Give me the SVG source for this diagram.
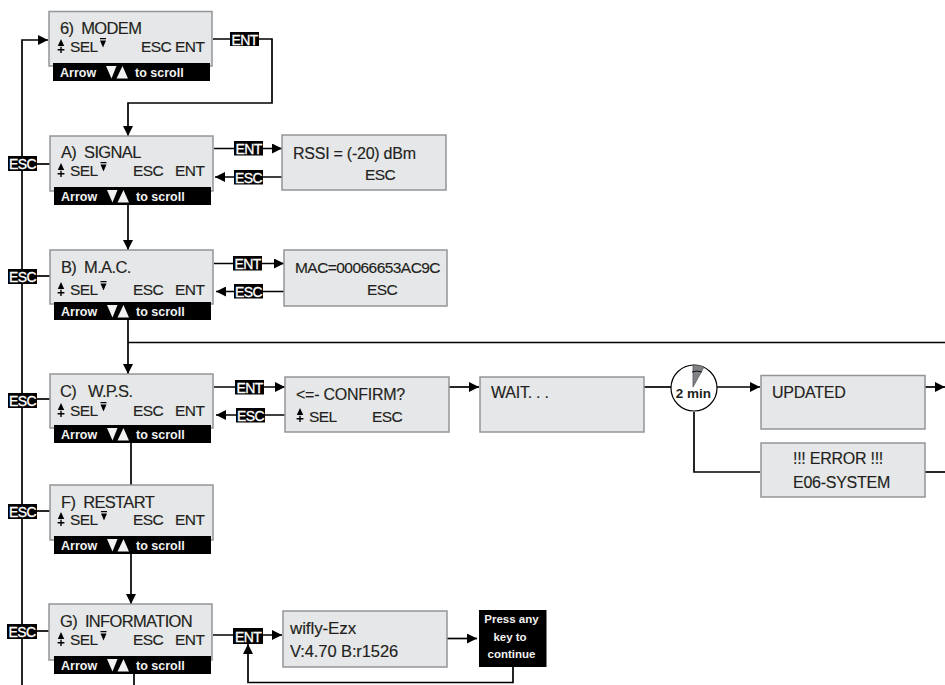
<svg xmlns="http://www.w3.org/2000/svg" width="945" height="685" viewBox="0 0 945 685">
<style>
text{font-family:"Liberation Sans",Arial,sans-serif;fill:#231f20;white-space:pre}
.box{fill:#e6e7e8;stroke:#939598;stroke-width:1.5}
.t{font-size:16.500px;letter-spacing:-.65px;stroke:#231f20;stroke-width:.15}
.w{font-size:17px;letter-spacing:-.1px;stroke:#231f20;stroke-width:.15}
.s{font-size:15.500px;letter-spacing:-.55px;stroke:#231f20;stroke-width:.15}
.l{font-size:16px;letter-spacing:-.25px;stroke:#231f20;stroke-width:.15}
.bar{fill:#000}
.bt{font-size:12.500px;font-weight:bold;fill:#f2f2f2}
.pt{font-size:11.500px;font-weight:bold;fill:#f2f2f2;text-anchor:middle}
.lb{fill:#000}
.lt{font-size:14px;fill:#fff;stroke:#fff;stroke-width:.3;text-anchor:middle;letter-spacing:-.6px}
.c{fill:none;stroke:#000;stroke-width:1.700}
.a{fill:#000}
</style>
<defs>
<marker id="arr" markerUnits="userSpaceOnUse" markerWidth="11" markerHeight="10" refX="10" refY="5" orient="auto"><path d="M0 0L10 5L0 10Z" fill="#000"/></marker>
<g id="updn"><path class="a" d="M0 -8L3.200 -1H-3.200Z"/><path class="a" d="M-3.400 2H-.7V-.2H.7V2H3.400V3.400H.7V6H-.7V3.400H-3.400Z"/></g>
<g id="dn"><path class="a" d="M-3 -6H3V-4.800H-3ZM-3 -3.600H3L0 3.500Z"/></g>
<g id="bar"><rect class="bar" x="0" y="0" width="157" height="18"/><text class="bt" x="7" y="13.500">Arrow</text><path d="M53 3H63.500L58.500 15.500Z" fill="#f2f2f2"/><path d="M63.500 15.500H75L69.500 3Z" fill="#f2f2f2"/><text class="bt" x="82" y="13.500">to scroll</text></g>
</defs>
<g id="connectors">
<path class="c" d="M22 685V40H48" marker-end="url(#arr)"/>
<path class="c" d="M213 39H272V103H128V136" marker-end="url(#arr)"/>
<path class="c" d="M214 148.500H282" marker-end="url(#arr)"/>
<path class="c" d="M282 177H215" marker-end="url(#arr)"/>
<path class="c" d="M128 205V250" marker-end="url(#arr)"/>
<path class="c" d="M214 263.500H284" marker-end="url(#arr)"/>
<path class="c" d="M284 291.500H216" marker-end="url(#arr)"/>
<path class="c" d="M128 320V374" marker-end="url(#arr)"/>
<path class="c" d="M128 342.500H945"/>
<path class="c" d="M214 387H285" marker-end="url(#arr)"/>
<path class="c" d="M285 415H216" marker-end="url(#arr)"/>
<path class="c" d="M449 387H479" marker-end="url(#arr)"/>
<path class="c" d="M131 443V485"/>
<path class="c" d="M131 554V604" marker-end="url(#arr)"/>
<path class="c" d="M134 674V685"/>
<path class="c" d="M643 387H671"/>
<path class="c" d="M717 387H760" marker-end="url(#arr)"/>
<path class="c" d="M925 387H945" marker-end="url(#arr)"/>
<path class="c" d="M694 412V472H760"/>
<path class="c" d="M925 472H945"/>
<path class="c" d="M37 164H50"/><path class="c" d="M37 276H50"/><path class="c" d="M37 399H50"/><path class="c" d="M37 511H50"/><path class="c" d="M37 631H50"/>
<path class="c" d="M213 635H282" marker-end="url(#arr)"/>
<path class="c" d="M447 638.500H477" marker-end="url(#arr)"/>
<path class="c" d="M513 667V682.500H248V644" marker-end="url(#arr)"/>
</g>
<g id="modem"><rect class="box" x="49" y="11.500" width="163" height="54.500"/><use href="#bar" x="53" y="63"/><text class="t" x="60" y="34">6)  MODEM</text><use href="#updn" x="61" y="47"/><text class="s" x="70" y="52">SEL</text><use href="#dn" x="103" y="44"/><text class="s" x="141" y="52">ESC ENT</text></g>
<g id="signal"><rect class="box" x="50" y="136" width="163" height="55"/><use href="#bar" x="54" y="187"/><text class="t" x="61" y="158">A)  SIGNAL</text><use href="#updn" x="61" y="171"/><text class="s" x="70" y="176">SEL</text><use href="#dn" x="103.500" y="168"/><text class="s" x="133" y="176">ESC</text><text class="s" x="175" y="176">ENT</text></g>
<g id="mac"><rect class="box" x="50" y="250" width="163" height="54"/><use href="#bar" x="54" y="302"/><text class="t" x="61" y="273">B)  M.A.C.</text><use href="#updn" x="61" y="290"/><text class="s" x="70" y="295">SEL</text><use href="#dn" x="103.500" y="287"/><text class="s" x="133" y="295">ESC</text><text class="s" x="175" y="295">ENT</text></g>
<g id="wps"><rect class="box" x="50" y="374" width="163" height="54"/><use href="#bar" x="54" y="425"/><text class="t" x="60" y="397">C)   W.P.S.</text><use href="#updn" x="61" y="411"/><text class="s" x="70" y="416">SEL</text><use href="#dn" x="103.500" y="408"/><text class="s" x="133" y="416">ESC</text><text class="s" x="175" y="416">ENT</text></g>
<g id="restart"><rect class="box" x="50" y="485" width="163" height="55"/><use href="#bar" x="54" y="536"/><text class="t" x="61" y="508">F)  RESTART</text><use href="#updn" x="61" y="520"/><text class="s" x="70" y="525">SEL</text><use href="#dn" x="104" y="517"/><text class="s" x="133" y="525">ESC</text><text class="s" x="175" y="525">ENT</text></g>
<g id="information"><rect class="box" x="49" y="604" width="163" height="56"/><use href="#bar" x="54" y="656"/><text class="t" x="60" y="627">G)  INFORMATION</text><use href="#updn" x="61" y="640"/><text class="s" x="70" y="645">SEL</text><use href="#dn" x="103.500" y="637"/><text class="s" x="133" y="645">ESC</text><text class="s" x="175" y="645">ENT</text></g>
<g id="rssi"><rect class="box" x="282" y="135" width="164" height="55"/><text class="l" x="293" y="159">RSSI = (-20) dBm</text><text class="s" x="365" y="180">ESC</text></g>
<g id="macval"><rect class="box" x="284" y="250" width="163" height="56"/><text class="s" x="295" y="273">MAC=00066653AC9C</text><text class="s" x="367" y="295">ESC</text></g>
<g id="confirm"><rect class="box" x="285" y="377" width="164" height="55"/><text class="l" x="296" y="400">&lt;=- CONFIRM?</text><use href="#updn" x="300" y="416"/><text class="s" x="309" y="421.500">SEL</text><text class="s" x="372" y="421.500">ESC</text></g>
<g id="wait"><rect class="box" x="480" y="377" width="164" height="55"/><text class="l" x="491" y="398">WAIT. . .</text></g>
<g id="timer"><circle cx="694" cy="388" r="23" fill="#fff" stroke="#000" stroke-width="1.200"/><path d="M693 387L693 365A23 23 0 0 1 704 367Z" fill="#808285" stroke="#58595b" stroke-width=".8"/><path d="M692 372Q697 370 702 372" fill="none" stroke="#000" stroke-width=".9"/><text x="693.500" y="398" font-size="13.500" font-weight="bold" text-anchor="middle">2 min</text></g>
<g id="updated"><rect class="box" x="761" y="375.500" width="164" height="53.500"/><text class="l" x="772" y="398">UPDATED</text></g>
<g id="error"><rect class="box" x="761" y="443" width="164" height="54"/><text class="l" x="838" y="464" text-anchor="middle">!!! ERROR !!!</text><text class="l" x="841.500" y="488" text-anchor="middle">E06-SYSTEM</text></g>
<g id="wifly"><rect class="box" x="283" y="611" width="164" height="56"/><text class="w" x="290" y="634">wifly-Ezx</text><text class="w" style="font-size:16.500px" x="290" y="657">V:4.70 B:r1526</text></g>
<g id="press"><rect fill="#000" x="479" y="610" width="67.500" height="57"/><text class="pt" x="511.500" y="623">Press any</text><text class="pt" x="510" y="641">key to</text><text class="pt" x="511.500" y="658">continue</text></g>
<g id="lbl-ent-modem"><rect class="lb" x="230" y="32" width="29" height="14"/><text class="lt" x="244.500" y="44.500">ENT</text></g>
<g id="lbl-ent-a"><rect class="lb" x="234" y="141" width="29" height="14.500"/><text class="lt" x="248.500" y="153.500">ENT</text></g>
<g id="lbl-esc-a"><rect class="lb" x="234" y="170" width="29" height="14.500"/><text class="lt" x="248.500" y="182.500">ESC</text></g>
<g id="lbl-ent-b"><rect class="lb" x="233" y="256" width="29" height="14.500"/><text class="lt" x="247.500" y="268.500">ENT</text></g>
<g id="lbl-esc-b"><rect class="lb" x="234" y="284" width="29" height="14.500"/><text class="lt" x="248.500" y="296.500">ESC</text></g>
<g id="lbl-ent-c"><rect class="lb" x="235" y="380" width="29" height="14.500"/><text class="lt" x="249.500" y="392.500">ENT</text></g>
<g id="lbl-esc-c"><rect class="lb" x="236" y="408" width="29" height="14.500"/><text class="lt" x="250.500" y="420.500">ESC</text></g>
<g id="lbl-ent-g"><rect class="lb" x="233" y="628" width="30" height="16"/><text class="lt" x="248" y="641.500">ENT</text></g>
<g id="lbl-esc-1"><rect class="lb" x="8" y="156" width="29" height="15"/><text class="lt" x="22.500" y="168.500">ESC</text></g>
<g id="lbl-esc-2"><rect class="lb" x="8" y="269" width="29" height="15"/><text class="lt" x="22.500" y="281.500">ESC</text></g>
<g id="lbl-esc-3"><rect class="lb" x="8" y="393" width="29" height="15"/><text class="lt" x="22.500" y="405.500">ESC</text></g>
<g id="lbl-esc-4"><rect class="lb" x="8" y="504" width="29" height="15"/><text class="lt" x="22.500" y="516.500">ESC</text></g>
<g id="lbl-esc-5"><rect class="lb" x="7" y="624" width="30" height="15"/><text class="lt" x="22" y="636.500">ESC</text></g>
</svg>
